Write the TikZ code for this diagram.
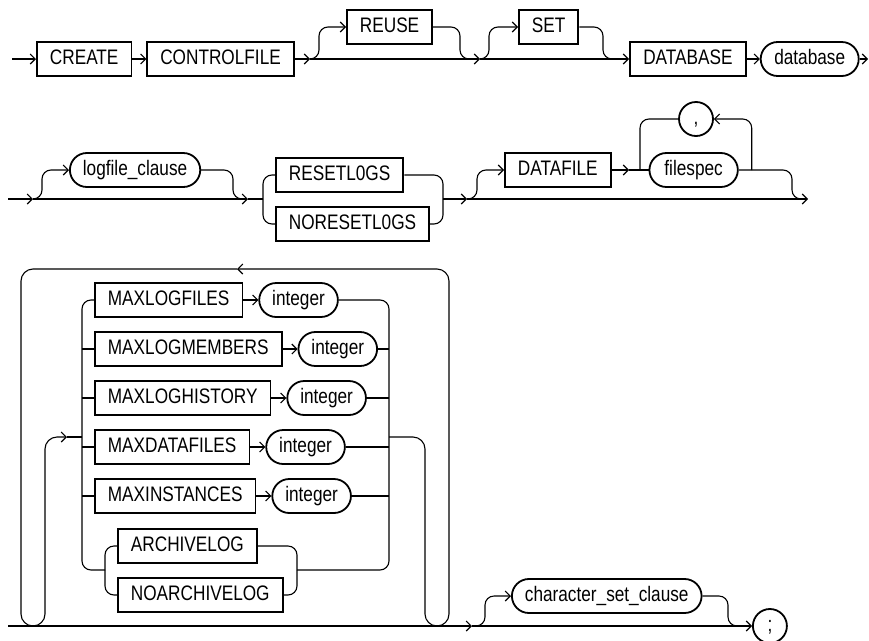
\documentclass[tikz,border=0pt]{standalone}
\usepackage{fontspec}
\setmainfont[FakeStretch=0.82]{Liberation Sans}
\usetikzlibrary{positioning,arrows.meta}

\begin{document}
\begin{tikzpicture}[x=1pt,y=-1pt,font=\fontsize{21}{24}\selectfont,
    kw/.style={draw,line width=1.8pt,minimum height=34pt,inner xsep=13pt,inner ysep=0pt,text height=15pt,text depth=4pt},
    nt/.style={kw,rounded corners=17pt},
    dot/.style={nt,minimum width=34pt,inner xsep=0pt},
    ln/.style={line width=1.1pt},
    ar/.style={ln,-{Straight Barb[length=5pt,width=10pt]}},
    rc/.style={rounded corners=#1},rc/.default=9pt]
  \useasboundingbox (0,0) rectangle (869,640);
  % first line
  \coordinate (s1) at (12,59); \coordinate (j1) at (310,59); \coordinate (j2) at (480,59); \coordinate (e1) at (868,59);
  \node[kw,anchor=west] (create) at (36,59) {CREATE};
  \node[kw,right=14pt of create] (ctl) {CONTROLFILE};
  \node[kw,anchor=west] (reuse) at (346,27) {REUSE};
  \node[kw,anchor=west] (set) at (518,27) {SET};
  \node[kw,anchor=west,minimum width=116pt] (dbkw) at (629,59) {DATABASE};
  \node[nt,right=13pt of dbkw,minimum width=98pt] (db) {database};
  \draw[ar](s1)--(create); \draw[ar](create)--(ctl); \draw[ar](ctl)--(j1);
  \draw[ar](j1)--(j2); \draw[ar](j2)--(dbkw); \draw[ar](dbkw)--(db); \draw[ar](db)--(e1);
  \draw[ar,rc](j1)--++(9,0)|-(reuse.west); \draw[ln,rc](reuse.east)-|([xshift=-20pt]j2)--++(10,0);
  \draw[ar,rc](j2)--++(9,0)|-(set.west); \draw[ln,rc](set.east)-|([xshift=-26pt]dbkw.west)--++(12,0);
  % second line
  \coordinate (s2) at (8,199); \coordinate (j3) at (33,199); \coordinate (j4) at (248,199);
  \coordinate (rl) at (263,199); \coordinate (rr) at (443,199); \coordinate (j5) at (467,199);
  \coordinate (j6) at (629,170); \coordinate (e2) at (808,199);
  \node[nt,anchor=west] (logf) at (69,170) {logfile\_clause};
  \node[kw,anchor=west] (reset) at (275,175) {RESETL0GS};
  \node[kw,anchor=west] (noreset) at (275,224) {NORESETL0GS};
  \node[kw,anchor=west] (dfkw) at (504,170) {DATAFILE};
  \node[nt,right=37pt of dfkw,inner xsep=15pt] (fspec) {filespec};
  \node[dot] (comma) at (696,119) {,};
  \draw[ar](s2)--(j3); \draw[ar](j3)--(j4); \draw[ln](j4)--(rl); \draw[ar](rr)--(j5); \draw[ar](j5)--(e2);
  \draw[ar,rc](j3)--++(9,0)|-(logf.west); \draw[ln,rc](logf.east)-|([xshift=-15pt]j4)--++(6,0);
  \draw[ln,rc](reset.west)-|(rl); \draw[ln,rc](noreset.west)-|(rl);
  \draw[ln,rc](reset.east)-|(rr); \draw[ln,rc](noreset.east)-|(rr);
  \draw[ar,rc](j5)--++(10,0)|-(dfkw.west); \draw[ar](dfkw)--(j6); \draw[ln](j6)--(fspec);
  \draw[ln,rc](comma.west)-|([xshift=11pt]j6); \draw[ar,rc]([xshift=13pt]fspec.east)|-(comma.east);
  \draw[ln,rc](fspec.east)-|([xshift=-16pt]e2)--++(6,0);
  % options, repeated
  \coordinate (s3) at (8,626); \coordinate (lb) at (33,626); \coordinate (rb) at (437,626);
  \coordinate (j8) at (472,626); \coordinate (top) at (237,269); \coordinate (ein) at (67,437);
  \coordinate (lbot) at (82,570); \coordinate (sl) at (105,570);
  \coordinate (rbot) at (389,570); \coordinate (sr) at (297,570);
  \node[kw,anchor=west] (mlf) at (94,300) {MAXLOGFILES}; \node[nt,right=15pt of mlf] (i1) {integer};
  \node[kw,anchor=west] (mlm) at (94,349) {MAXLOGMEMBERS}; \node[nt,right=15pt of mlm] (i2) {integer};
  \node[kw,anchor=west] (mlh) at (94,398) {MAXLOGHISTORY}; \node[nt,right=15pt of mlh] (i3) {integer};
  \node[kw,anchor=west] (mdf) at (94,447) {MAXDATAFILES}; \node[nt,right=15pt of mdf] (i4) {integer};
  \node[kw,anchor=west] (mins) at (94,496) {MAXINSTANCES}; \node[nt,right=15pt of mins] (i5) {integer};
  \node[kw,anchor=west] (arch) at (117,546) {ARCHIVELOG};
  \node[kw,anchor=west] (noarch) at (117,595) {NOARCHIVELOG};
  \node[nt,anchor=west] (csc) at (511,596) {character\_set\_clause};
  \node[dot,anchor=west] (semi) at (752,626) {;};
  \draw[ar](mlf)--(i1); \draw[ar](mlm)--(i2); \draw[ar](mlh)--(i3); \draw[ar](mdf)--(i4); \draw[ar](mins)--(i5);
  \draw[ln,rc](mlf.west)-|(lbot)--(sl); \draw[ln,rc](i1.east)-|(rbot)--(sr);
  \draw[ln](mlm.west-|lbot)--(mlm.west); \draw[ln](i2.east)--(i2.east-|rbot);
  \draw[ln](mlh.west-|lbot)--(mlh.west); \draw[ln](i3.east)--(i3.east-|rbot);
  \draw[ln](mdf.west-|lbot)--(mdf.west); \draw[ln](i4.east)--(i4.east-|rbot);
  \draw[ln](mins.west-|lbot)--(mins.west); \draw[ln](i5.east)--(i5.east-|rbot);
  \draw[ln,rc](arch.west)-|(sl); \draw[ln,rc](noarch.west)-|(sl);
  \draw[ln,rc](arch.east)-|(sr); \draw[ln,rc](noarch.east)-|(sr);
  \draw[ar](s3)--(j8); \draw[ar](j8)--(semi);
  \draw[ar,rc=12pt](lb)--++(12,0)|-(ein); \draw[ln](ein)--(ein-|lbot);
  \draw[ln,rc=12pt](rb)--++(-12,0)|-(ein-|rbot);
  \draw[ar,rc=12pt](rb)--++(12,0)|-(top); \draw[ln,rc=12pt](top)--++(-216,0)|-(lb);
  \draw[ar,rc](j8)--++(13,0)|-(csc.west); \draw[ln,rc](csc.east)-|([xshift=-24pt]semi.west)--++(10,0);
\end{tikzpicture}
\end{document}
